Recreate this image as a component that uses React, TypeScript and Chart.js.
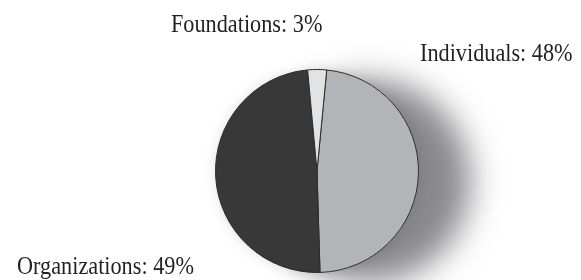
import React, { useEffect, useRef } from "react";
import { Chart, registerables } from "chart.js";

Chart.register(...registerables);

const categories = ["Individuals", "Organizations", "Foundations"];
const shares = [48, 49, 3];
const sliceColors = ["#b3b4b7", "#383838", "#e2e3e5"];
// label anchor (left x, baseline y) in canvas pixels
const labelX = [420, 17, 171];
const labelY = [61, 274, 32];

const shadowPlugin = {
  id: "pieShadow",
  beforeDatasetsDraw(chart: any) {
    const meta = chart.getDatasetMeta(0);
    const arc = meta.data[0];
    if (!arc) return;
    const { x, y, outerRadius } = arc.getProps(["x", "y", "outerRadius"], true);
    const ctx = chart.ctx;
    ctx.save();
    // large soft drop shadow to the lower right
    ctx.shadowColor = "rgba(20,20,28,0.5)";
    ctx.shadowBlur = 32;
    ctx.shadowOffsetX = 52;
    ctx.shadowOffsetY = 10;
    ctx.fillStyle = "#ffffff";
    ctx.beginPath();
    ctx.arc(x, y, outerRadius, 0, Math.PI * 2);
    ctx.fill();
    // faint halo around the disc
    ctx.shadowColor = "rgba(0,0,0,0.12)";
    ctx.shadowBlur = 14;
    ctx.shadowOffsetX = 0;
    ctx.shadowOffsetY = 0;
    ctx.beginPath();
    ctx.arc(x, y, outerRadius, 0, Math.PI * 2);
    ctx.fill();
    ctx.restore();
  },
};

const labelPlugin = {
  id: "sliceLabels",
  afterDatasetsDraw(chart: any) {
    const ctx = chart.ctx;
    const labels = chart.data.labels as string[];
    const values = chart.data.datasets[0].data as number[];
    ctx.save();
    ctx.fillStyle = "#231f20";
    ctx.font = '25px "Liberation Serif"';
    ctx.textBaseline = "alphabetic";
    ctx.textAlign = "left";
    labels.forEach((lab, i) => {
      ctx.save();
      ctx.translate(labelX[i], labelY[i]);
      ctx.scale(0.89, 1);
      ctx.fillText(`${lab}: ${values[i]}%`, 0, 0);
      ctx.restore();
    });
    ctx.restore();
  },
};

export default function App() {
  const ref = useRef<HTMLCanvasElement>(null);
  useEffect(() => {
    document.body.style.margin = "0";
    const chart = new Chart(ref.current!, {
      type: "pie",
      data: {
        labels: categories,
        datasets: [
          {
            data: shares,
            backgroundColor: sliceColors,
            borderColor: "#2b2b2b",
            borderWidth: 1,
          },
        ],
      },
      options: {
        responsive: false,
        animation: false,
        rotation: 5.5,
        layout: { padding: { left: 215, right: 162, top: 69, bottom: 7 } },
        plugins: {
          legend: { display: false },
          tooltip: { enabled: false },
        },
      },
      plugins: [shadowPlugin, labelPlugin],
    });
    return () => chart.destroy();
  }, []);
  return (
    <div style={{ width: 581, height: 280 }}>
      <canvas ref={ref} width={581} height={280} style={{ display: "block" }} />
    </div>
  );
}
